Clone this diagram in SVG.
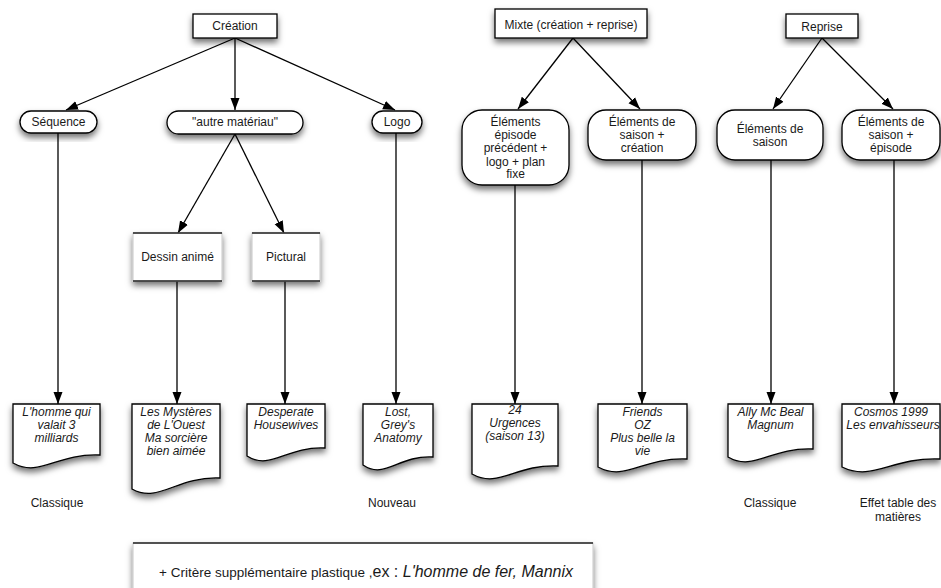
<svg xmlns="http://www.w3.org/2000/svg" width="941" height="588" viewBox="0 0 941 588">
<defs>
<filter id="sh" x="-20%" y="-20%" width="140%" height="160%">
<feDropShadow dx="0" dy="4" stdDeviation="3" flood-color="#000" flood-opacity="0.55"/>
</filter>
<marker id="ah" viewBox="0 0 12 10" refX="12" refY="5" markerWidth="12" markerHeight="10" markerUnits="userSpaceOnUse" orient="auto">
<path d="M0,0.5 L12,5 L0,9.5 Z" fill="#000"/>
</marker>
</defs>
<style>
text{font-family:"Liberation Sans",Arial,sans-serif;font-size:12px;fill:#1a1a1a;text-anchor:middle}
.it{font-style:italic}
.box{fill:#fff;stroke:#000;stroke-width:1.3;filter:url(#sh)}
.lite{fill:#fff;stroke:#c8c8c8;stroke-width:1;filter:url(#sh)}
.edge{stroke:#222;stroke-width:1.3}
.con{stroke:#000;stroke-width:1.3;fill:none;marker-end:url(#ah)}
</style>
<rect width="941" height="588" fill="#fff"/>

<g id="connectors">
<line class="con" x1="235" y1="38" x2="66" y2="110"/>
<line class="con" x1="235" y1="38" x2="235" y2="110"/>
<line class="con" x1="235" y1="38" x2="395" y2="110"/>
<line class="con" x1="235" y1="134" x2="178" y2="233"/>
<line class="con" x1="235" y1="134" x2="284" y2="233"/>
<line class="con" x1="573" y1="38" x2="518" y2="109"/>
<line class="con" x1="573" y1="38" x2="640" y2="109"/>
<line class="con" x1="822" y1="38" x2="773" y2="109"/>
<line class="con" x1="822" y1="38" x2="893" y2="109"/>
<line class="con" x1="58" y1="133" x2="58" y2="404"/>
<line class="con" x1="177" y1="281" x2="177" y2="404"/>
<line class="con" x1="285" y1="281" x2="285" y2="404"/>
<line class="con" x1="396" y1="133" x2="396" y2="404"/>
<line class="con" x1="515" y1="185" x2="515" y2="404"/>
<line class="con" x1="642" y1="160" x2="642" y2="404"/>
<line class="con" x1="771" y1="160" x2="771" y2="404"/>
<line class="con" x1="894" y1="160" x2="894" y2="404"/>
</g>

<g id="creation"><rect class="box" x="193" y="14" width="84" height="24"/><text x="235" y="30">Création</text></g>
<g id="mixte"><rect class="box" x="495" y="9" width="152" height="29"/><text x="571" y="29">Mixte (création + reprise)</text></g>
<g id="reprise"><rect class="box" x="786" y="14" width="72" height="24"/><text x="822" y="31">Reprise</text></g>

<g id="sequence"><rect class="box" x="20" y="111" width="77" height="22" rx="11"/><text x="58.5" y="126">Séquence</text></g>
<g id="autre"><rect class="box" x="167" y="111" width="136" height="23" rx="11.5"/><text x="235" y="126">"autre matériau"</text></g>
<g id="logo"><rect class="box" x="372" y="111" width="50" height="22" rx="11"/><text x="397" y="126">Logo</text></g>

<g id="elem-episode"><rect class="box" x="462" y="110" width="107" height="75" rx="20"/>
<text x="515.5" y="126">Éléments</text><text x="515.5" y="139">épisode</text><text x="515.5" y="152">précédent +</text><text x="515.5" y="165.5">logo + plan</text><text x="515.5" y="178">fixe</text></g>
<g id="elem-saison-creation"><rect class="box" x="588" y="110" width="108" height="50" rx="18"/>
<text x="642" y="126">Éléments de</text><text x="642" y="139">saison +</text><text x="642" y="152">création</text></g>
<g id="elem-saison"><rect class="box" x="717" y="110" width="106" height="50" rx="18"/>
<text x="770" y="132.5">Éléments de</text><text x="770" y="146">saison</text></g>
<g id="elem-saison-episode"><rect class="box" x="842" y="110" width="98" height="50" rx="18"/>
<text x="891" y="126">Éléments de</text><text x="891" y="139">saison +</text><text x="891" y="152">épisode</text></g>

<g id="dessin"><rect class="lite" x="133" y="233" width="89" height="48"/>
<line class="edge" x1="133" y1="233" x2="222" y2="233"/><line class="edge" x1="133" y1="281" x2="222" y2="281"/>
<text x="177.5" y="261">Dessin animé</text></g>
<g id="pictural"><rect class="lite" x="252" y="233" width="68" height="48"/>
<line class="edge" x1="252" y1="233" x2="320" y2="233"/><line class="edge" x1="252" y1="281" x2="320" y2="281"/>
<text x="286" y="261">Pictural</text></g>

<g id="doc-homme"><path class="box" d="M13,404 H100 V455 C56,453 40,478 13,463 Z"/>
<text class="it" x="56.5" y="416">L'homme qui</text><text class="it" x="56.5" y="429">valait 3</text><text class="it" x="56.5" y="442">milliards</text></g>
<g id="doc-mysteres"><path class="box" d="M132,404 H220 V478 C176,476 159,504 132,489 Z"/>
<text class="it" x="176" y="416">Les Mystères</text><text class="it" x="176" y="429">de L'Ouest</text><text class="it" x="176" y="442">Ma sorcière</text><text class="it" x="176" y="455">bien aimée</text></g>
<g id="doc-desperate"><path class="box" d="M247,404 H325 V448 C286,446 271,471 247,456 Z"/>
<text class="it" x="286" y="416">Desperate</text><text class="it" x="286" y="429">Housewives</text></g>
<g id="doc-lost"><path class="box" d="M363,404 H433 V457 C398,455 385,480 363,465 Z"/>
<text class="it" x="398" y="416">Lost,</text><text class="it" x="398" y="429">Grey's</text><text class="it" x="398" y="442">Anatomy</text></g>
<g id="doc-24"><path class="box" d="M472,404 H558 V466 C515,464 499,489 472,474 Z"/>
<text class="it" x="515" y="414">24</text><text class="it" x="515" y="427">Urgences</text><text class="it" x="515" y="440">(saison 13)</text></g>
<g id="doc-friends"><path class="box" d="M598,404 H687 V459 C642,457 626,482 598,467 Z"/>
<text class="it" x="642.5" y="416">Friends</text><text class="it" x="642.5" y="429">OZ</text><text class="it" x="642.5" y="442">Plus belle la</text><text class="it" x="642.5" y="455">vie</text></g>
<g id="doc-ally"><path class="box" d="M728,404 H813 V449 C770,447 754,472 728,457 Z"/>
<text class="it" x="770.5" y="416">Ally Mc Beal</text><text class="it" x="770.5" y="429">Magnum</text></g>
<g id="doc-cosmos"><path class="box" d="M842,404 H940 V459 C891,457 873,482 842,467 Z"/>
<text class="it" x="891" y="416">Cosmos 1999</text><text class="it" x="893" y="429">Les envahisseurs</text></g>

<g id="labels">
<text x="57" y="507">Classique</text>
<text x="392" y="507">Nouveau</text>
<text x="770" y="507">Classique</text>
<text x="898" y="507">Effet table des</text>
<text x="898" y="521">matières</text>
</g>

<g id="note"><rect class="lite" x="133" y="543" width="460" height="52"/>
<line class="edge" x1="133" y1="543" x2="593" y2="543"/>
<text x="159" y="577" style="text-anchor:start;font-size:13.5px">+ Critère supplémentaire plastique ,<tspan style="font-size:16px">ex : </tspan><tspan class="it" style="font-size:16px">L'homme de fer, Mannix</tspan></text>
</g>
</svg>
